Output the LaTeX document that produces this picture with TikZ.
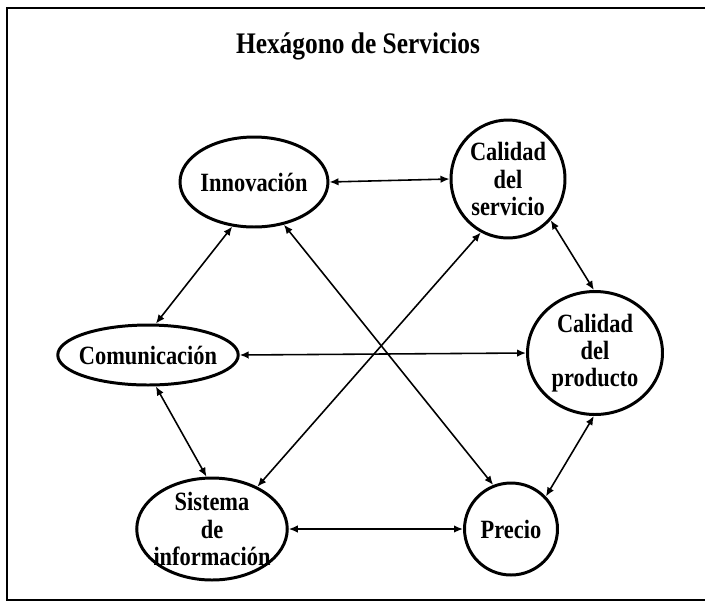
\documentclass[tikz,border=0pt]{standalone}
\usepackage{fontspec}
\newfontfamily\hexfont[FakeStretch=0.85]{Liberation Serif}
\usetikzlibrary{shapes.geometric, arrows.meta}

\begin{document}
\begin{tikzpicture}[x=0.02cm, y=-0.02cm,
  hexnode/.style={ellipse, draw, line width=1.7pt, inner sep=-3pt, align=center,
    font=\hexfont\bfseries\fontsize{15}{15.5}\selectfont},
  link/.style={{Latex[length=1.8mm,width=1.5mm]}-{Latex[length=1.8mm,width=1.5mm]}, line width=0.9pt}]
  \useasboundingbox (0,0) rectangle (705,609);
  \draw[line width=1.4pt] (705,8) -- (7,8) -- (7,600) -- (705,600);
  \node[anchor=base, font=\hexfont\bfseries\fontsize{17}{20}\selectfont] (title) at (358,53) {Hexágono de Servicios};
  \node[hexnode, minimum width=2.96cm, minimum height=1.8cm]  (inno) at (254,182) {Innovación};
  \node[hexnode, minimum width=2.28cm, minimum height=2.36cm] (serv) at (508,179) {Calidad\\del\\servicio};
  \node[hexnode, minimum width=3.6cm,  minimum height=1.2cm]  (comu) at (148,355) {Comunicación};
  \node[hexnode, minimum width=2.7cm,  minimum height=2.46cm] (prod) at (595,353) {Calidad\\del\\producto};
  \node[hexnode, minimum width=3.0cm,  minimum height=2.04cm] (sist) at (212,529) {Sistema\\de\\información};
  \node[hexnode, minimum width=1.86cm, minimum height=1.84cm] (prec) at (511,529) {Precio};
  \draw[link] (inno.0)   -- (serv.180);
  \draw[link] (inno.244) -- (comu.76);
  \draw[link] (inno.305) -- (prec.112);
  \draw[link] (serv.316) -- (prod.91);
  \draw[link] (serv.243) -- (sist.43);
  \draw[link] (comu.0)   -- (prod.180);
  \draw[link] (comu.284) -- (sist.96);
  \draw[link] (prod.269) -- (prec.43);
  \draw[link] (sist.0)   -- (prec.180);
\end{tikzpicture}
\end{document}
